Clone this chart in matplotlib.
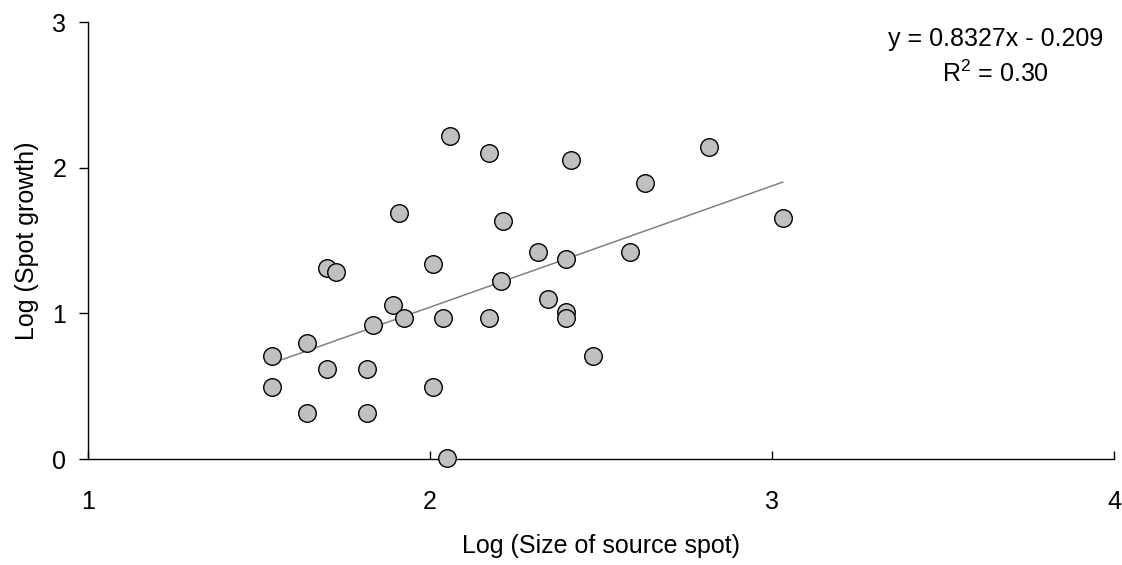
import matplotlib.pyplot as plt
import numpy as np

plt.rcParams['font.family'] = ['Liberation Sans', 'DejaVu Sans']

# log size of source spot vs log spot growth
log_size = [2.058, 2.172, 2.412, 2.629, 1.908, 2.214, 2.317, 2.398, 2.585,
            1.698, 1.725, 2.010, 2.209, 1.891, 2.344, 2.398, 2.398, 1.924,
            2.037, 2.172, 1.832, 1.639, 1.537, 2.478, 1.698, 1.817, 1.537,
            2.010, 1.639, 1.817, 2.049, 2.817, 3.031]
log_growth = [2.217, 2.102, 2.052, 1.892, 1.686, 1.636, 1.423, 1.373, 1.423,
              1.309, 1.286, 1.336, 1.222, 1.057, 1.096, 1.011, 0.970, 0.970,
              0.970, 0.970, 0.920, 0.794, 0.707, 0.707, 0.620, 0.620, 0.492,
              0.492, 0.314, 0.314, 0.009, 2.139, 1.652]

# trend line as drawn
slope = 0.8327
intercept = -0.623
eq_text = 'y = 0.8327x - 0.209\n$\\mathregular{R^2}$ = 0.30'

fs = 18

fig = plt.figure(figsize=(11.22, 5.65), dpi=100)
ax = fig.add_axes([0.0784, 0.1876, 0.9145, 0.7734])

xs = np.array([min(log_size), max(log_size)])
ax.plot(xs, slope * xs + intercept, color='#808080', lw=1.1, zorder=2)
ax.scatter(log_size, log_growth, s=160, facecolor='#c0c0c0', edgecolor='black',
           linewidth=1.0, zorder=4, clip_on=False)

ax.set_xlim(1, 4)
ax.set_ylim(0, 3)
ax.set_xticks([1, 2, 3, 4])
ax.set_yticks([0, 1, 2, 3])
ax.spines['top'].set_visible(False)
ax.spines['right'].set_visible(False)
for s in ['left', 'bottom']:
    ax.spines[s].set_linewidth(1.0)
ax.tick_params(axis='x', direction='in', length=6, width=1.0, pad=22, labelsize=fs)
ax.tick_params(axis='y', direction='out', length=6.5, width=1.0, pad=9, labelsize=fs)

ax.set_xlabel('Log (Size of source spot)', fontsize=fs, labelpad=15)
ax.set_ylabel('Log (Spot growth)', fontsize=fs, labelpad=10)

fig.text(0.887, 0.899, eq_text, ha='center', va='center',
         fontsize=fs, linespacing=1.45)

fig.savefig('out.png', dpi=100)
